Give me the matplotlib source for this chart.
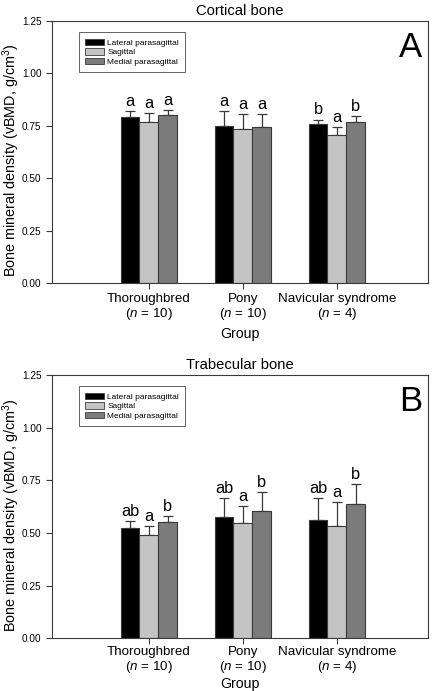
import numpy as np
import matplotlib
matplotlib.use("Agg")
import matplotlib.pyplot as plt
from matplotlib.patches import Patch

plt.rcParams["font.family"] = ["Liberation Sans", "DejaVu Sans"]
plt.rcParams["mathtext.fontset"] = "custom"
plt.rcParams["mathtext.rm"] = "Liberation Sans"
plt.rcParams["mathtext.it"] = "Liberation Sans:italic"

groups = ["Thoroughbred\n($\\mathit{n}$ = 10)", "Pony\n($\\mathit{n}$ = 10)",
          "Navicular syndrome\n($\\mathit{n}$ = 4)"]
series = ["Lateral parasagittal", "Sagittal", "Medial parasagittal"]
colors = ["#000000", "#c4c4c4", "#7b7b7b"]

# cortical bone (panel A)
cort_mean = [[0.790, 0.750, 0.760],
             [0.767, 0.733, 0.705],
             [0.800, 0.744, 0.767]]
cort_err = [[0.030, 0.070, 0.020],
            [0.045, 0.072, 0.041],
            [0.025, 0.061, 0.031]]
cort_letters = [["a", "a", "b"], ["a", "a", "a"], ["a", "a", "b"]]

# trabecular bone (panel B)
trab_mean = [[0.522, 0.575, 0.563],
             [0.490, 0.548, 0.535],
             [0.551, 0.603, 0.638]]
trab_err = [[0.035, 0.090, 0.102],
            [0.043, 0.082, 0.111],
            [0.030, 0.093, 0.094]]
trab_letters = [["ab", "ab", "ab"], ["a", "a", "a"], ["b", "b", "b"]]

yticks = [0.00, 0.25, 0.50, 0.75, 1.00, 1.25]
edge = "#3a3a3a"

fig = plt.figure(figsize=(4.32, 6.91), dpi=100)
ax_a = fig.add_axes([0.1204, 0.5904, 0.8703, 0.3792])
ax_b = fig.add_axes([0.1204, 0.0763, 0.8703, 0.3810])


def draw_panel(ax, means, errs, letters, title, tag, group_y, tick_pad):
    x = np.arange(1, len(groups) + 1)
    w = 0.2
    for i in range(len(series)):
        pos = x + (i - 1) * w
        ax.bar(pos, means[i], w, color=colors[i], edgecolor=edge, linewidth=0.8,
               label=series[i], zorder=2)
        ax.errorbar(pos, means[i], yerr=[np.zeros(len(x)), errs[i]], fmt="none",
                    ecolor=edge, elinewidth=0.9, capsize=3.5, capthick=0.9, zorder=1)
        for j in range(len(x)):
            ax.annotate(letters[i][j], (pos[j], means[i][j] + errs[i][j]),
                        xytext=(0, 1.5), textcoords="offset points",
                        ha="center", va="bottom", fontsize=11.8)
    ax.set_xlim(-0.03, 3.97)
    ax.set_ylim(0, 1.25)
    ax.set_yticks(yticks)
    ax.set_yticklabels([f"{v:.2f}" for v in yticks], fontsize=7.2)
    ax.set_xticks(x)
    ax.set_xticklabels(groups, fontsize=9.6, linespacing=1.1)
    ax.tick_params(direction="out", length=4, width=0.8, color=edge)
    ax.tick_params(axis="x", pad=tick_pad)
    for s in ax.spines.values():
        s.set_color(edge)
        s.set_linewidth(0.8)
    ax.set_title(title, fontsize=10.6, pad=4)
    ax.set_xlabel("Group", fontsize=10.2)
    ax.xaxis.set_label_coords(0.5, group_y)
    ax.set_ylabel("Bone mineral density (vBMD, g/cm$^3$)", fontsize=10.4)
    ax.yaxis.set_label_coords(-0.081, 0.468)
    ax.text(0.985, 0.9, tag, transform=ax.transAxes, ha="right", va="center",
            fontsize=25)
    handles = [Patch(facecolor=colors[i], edgecolor=edge, linewidth=0.6)
               for i in range(len(series))]
    leg = ax.legend(handles, series, loc="upper left", bbox_to_anchor=(0.071, 0.957),
                    borderaxespad=0, fontsize=6.0, frameon=True, fancybox=False,
                    handlelength=2.3, handleheight=0.8, handletextpad=0.4,
                    labelspacing=0.2, borderpad=0.75)
    leg.get_frame().set_edgecolor(edge)
    leg.get_frame().set_linewidth(0.7)


draw_panel(ax_a, cort_mean, cort_err, cort_letters, "Cortical bone", "A", -0.168, 3)
draw_panel(ax_b, trab_mean, trab_err, trab_letters, "Trabecular bone", "B", -0.148, 1.5)

fig.savefig("out.png", dpi=100)
